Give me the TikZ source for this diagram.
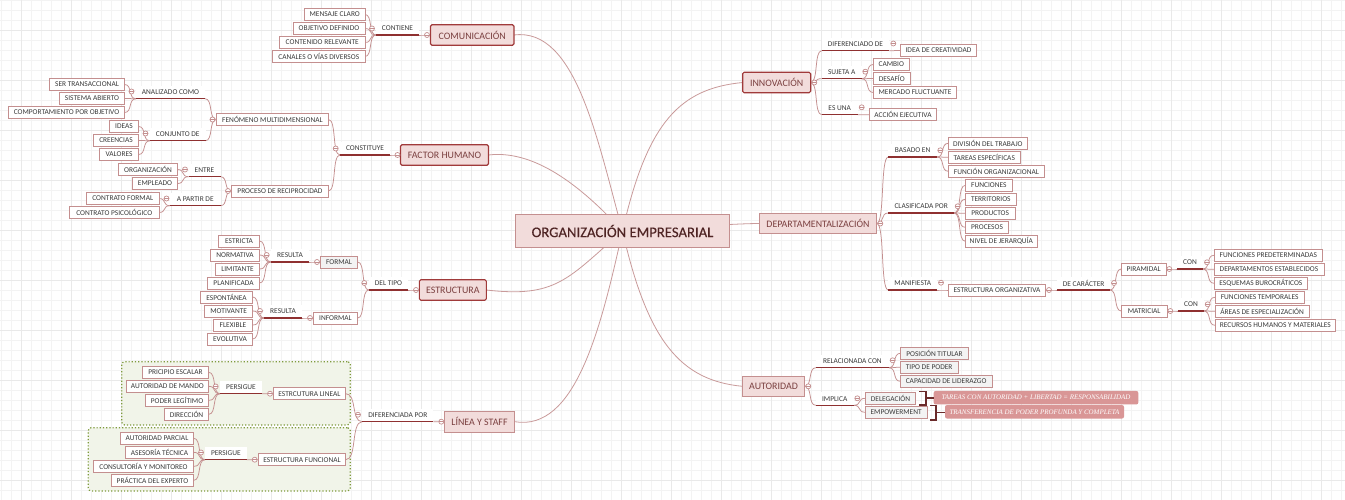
\documentclass[tikz,border=0pt]{standalone}
\usepackage{fontspec}
\setmainfont{Carlito}
\newfontfamily\callfont{Liberation Serif}
\newfontfamily\rootfont[FakeBold=0.3]{Carlito}
\usetikzlibrary{calc,backgrounds}
\definecolor{gridmin}{HTML}{F3F3F3}
\definecolor{gridmaj}{HTML}{E9E9E9}
\definecolor{lineC}{HTML}{C48F8F}
\definecolor{rootline}{HTML}{C99A9A}
\definecolor{barC}{HTML}{8F3030}
\definecolor{pinkF}{HTML}{F2DCDB}
\definecolor{strongB}{HTML}{A03A3A}
\definecolor{txtC}{HTML}{3A3A3A}
\definecolor{topicT}{HTML}{7A3F3F}
\definecolor{rootT}{HTML}{4F2424}
\definecolor{panelF}{HTML}{F1F4E9}
\definecolor{panelB}{HTML}{7E9A3C}
\definecolor{callF}{HTML}{D99696}
\definecolor{brkC}{HTML}{6A2A2A}
\tikzset{
  box/.style={draw=lineC,line width=.8pt,fill=white,inner sep=0pt,outer sep=0pt,minimum height=12pt,
    text=txtC,font=\fontsize{7.4}{9}\selectfont},
  greybox/.style={fill=gridmin},
  topic/.style={draw=lineC,fill=pinkF,minimum height=20.5pt,text=topicT,font=\fontsize{9.9}{12}\selectfont},
  strong/.style={draw=strongB,line width=1.1pt,rounded corners=1.5pt},
  rootbox/.style={draw=lineC,line width=.9pt,fill=pinkF,minimum height=33pt,text=rootT,font=\rootfont\fontsize{14.7}{16}\selectfont},
  labelbox/.style={fill=white,inner sep=0pt,outer sep=0pt,minimum height=13pt,text=txtC,font=\fontsize{7.4}{9}\selectfont},
  bar/.style={draw=barC,line width=1.4pt},
  toggle/.style={circle,draw=lineC,fill=white,line width=.7pt,inner sep=0pt,outer sep=0pt,minimum size=5pt,
    path picture={\draw[lineC,line width=.5pt] (path picture bounding box.west) -- (path picture bounding box.east);}},
  conn/.style={draw=lineC,line width=.75pt},
  rootconn/.style={draw=rootline,line width=.8pt},
  panel/.style={draw=panelB,fill=panelF,line width=1.2pt,dotted,rounded corners=3pt,inner sep=0pt},
  callout/.style={fill=callF,rounded corners=2pt,inner sep=0pt,minimum height=13.5pt,text=white,
    font=\callfont\itshape\fontsize{6.95}{9}\selectfont},
  brk/.style={draw=brkC,line width=1.6pt},
}
% [style]{name}{x1}{x2}{yc}{text}
\newcommand\bx[6][]{\node[box,#1,minimum width={(#4-#3)*1pt}] (#2) at ({(#3+#4)/2},#5) {#6};}
% [style]{name}{x1}{x2}{yline}{text}
\newcommand\lab[6][]{\node[labelbox,#1,minimum width={(#4-#3)*1pt}] (#2) at ({(#3+#4)/2},#5-6.5) {#6};
  \draw[bar] (#2.south west) -- (#2.south east);}
\newcommand\cc[3]{\node[toggle] (#1) at (#2,#3) {};}
\newcommand\lnk[2]{\draw[conn] (#1) .. controls ($(#1)!.7!(#2|-#1)$) and ($(#2)!.7!(#1|-#2)$) .. (#2);}
\begin{document}
\begin{tikzpicture}[x=1pt,y=-1pt]
\useasboundingbox (0,0) rectangle (1345,500);
% ROOT
\node[rootbox,minimum width=214pt] (root) at (622.5,231) {ORGANIZACIÓN EMPRESARIAL};
% COMUNICACION
\bx[topic,strong]{com}{430.5}{514}{35}{COMUNICACIÓN}
\cc{tcom}{427}{35}
\lab{contiene}{376}{419}{35}{CONTIENE}
\cc{tcont}{372}{28.5}
\bx{m1}{304.5}{365}{14.5}{MENSAJE CLARO}
\bx{m2}{293}{365}{28.5}{OBJETIVO DEFINIDO}
\bx{m3}{279.5}{365}{42.5}{CONTENIDO RELEVANTE}
\bx{m4}{272.5}{365}{56.5}{CANALES O VÍAS DIVERSOS}
% FACTOR HUMANO
\bx[topic,strong]{fac}{400.5}{488.5}{155}{FACTOR HUMANO}
\cc{tfac}{397.5}{155}
\lab{const}{340}{390}{155}{CONSTITUYE}
\cc{tconst}{335.7}{148.5}
\bx{fen}{216.5}{328.5}{119.5}{FENÓMENO MULTIDIMENSIONAL}
\cc{tfen}{212.5}{119.5}
\bx{pro}{231.5}{328.5}{191}{PROCESO DE RECIPROCIDAD}
\cc{tpro}{228}{191}
\lab{anal}{136}{205}{98.7}{ANALIZADO COMO}
\cc{tanal}{131.5}{91.5}
\bx{f1}{49.5}{124.5}{84.5}{SER TRANSACCIONAL}
\bx{f2}{59.5}{124.5}{98.5}{SISTEMA ABIERTO}
\bx{f3}{8.5}{124.5}{112.5}{COMPORTAMIENTO POR OBJETIVO}
\lab{conj}{150}{205.5}{140.7}{CONJUNTO DE}
\cc{tconj}{145.5}{133.5}
\bx{f4}{109.5}{138.5}{126.5}{IDEAS}
\bx{f5}{93.5}{138.5}{140.5}{CREENCIAS}
\bx{f6}{99.5}{138.5}{154.5}{VALORES}
\lab{entre}{188.5}{220.5}{176.7}{ENTRE}
\cc{tentre}{185}{169.5}
\bx{f7}{118.5}{177.5}{169.5}{ORGANIZACIÓN}
\bx{f8}{132.5}{177.5}{183.5}{EMPLEADO}
\lab{apar}{170}{220.5}{205.7}{A PARTIR DE}
\cc{tapar}{166.5}{198.5}
\bx{f9}{86.5}{159}{198.5}{CONTRATO FORMAL}
\bx{f10}{69.5}{159}{212.5}{CONTRATO PSICOLÓGICO}
% ESTRUCTURA
\bx[topic,strong]{est}{419.3}{486.3}{290}{ESTRUCTURA}
\cc{test}{416}{290}
\lab{deltipo}{368.7}{408.3}{290}{DEL TIPO}
\cc{tdel}{364.3}{283}
\bx[greybox]{form}{320.3}{357.7}{262}{FORMAL}
\cc{tform}{317}{262}
\bx{inf}{313.3}{357.7}{318}{INFORMAL}
\cc{tinf}{310}{318}
\lab{res1}{270.7}{309.3}{262}{RESULTA}
\cc{tres1}{266.7}{255}
\lab{res2}{264}{302}{318}{RESULTA}
\cc{tres2}{260}{311}
\bx{e1}{218.5}{259.5}{241}{ESTRICTA}
\bx{e2}{210.7}{259.5}{255}{NORMATIVA}
\bx{e3}{215.5}{259.5}{269}{LIMITANTE}
\bx{e4}{207.5}{259.5}{283}{PLANIFICADA}
\bx{e5}{200.3}{252.7}{297}{ESPONTÁNEA}
\bx{e6}{204.7}{252.7}{311}{MOTIVANTE}
\bx{e7}{213.3}{252.7}{325}{FLEXIBLE}
\bx{e8}{207.3}{252.7}{339}{EVOLUTIVA}
% LINEA Y STAFF
\bx[topic]{lin}{444.3}{514.7}{421.7}{LÍNEA Y STAFF}
\cc{tlin}{441.3}{421.7}
\lab{dif}{362.3}{433.3}{421.7}{DIFERENCIADA POR}
\cc{tdif}{358}{414.7}
\bx{el}{273.3}{345.7}{393.7}{ESTRCUTURA LINEAL}
\cc{tel}{270}{393.7}
\bx{ef}{258.3}{345.7}{459.7}{ESTRUCTURA FUNCIONAL}
\cc{tef}{254.7}{459.7}
\lab{per1}{220}{262}{393.7}{PERSIGUE}
\cc{tper1}{215.7}{386.5}
\lab{per2}{205}{246.7}{459.7}{PERSIGUE}
\cc{tper2}{201}{452.5}
\bx{l1}{142.3}{208.7}{372.3}{PRICIPIO ESCALAR}
\bx{l2}{126}{208.7}{386.3}{AUTORIDAD DE MANDO}
\bx{l3}{145.3}{208.7}{400.3}{PODER LEGÍTIMO}
\bx{l4}{164.3}{208.7}{414.3}{DIRECCIÓN}
\bx{l5}{120.3}{193.7}{438.3}{AUTORIDAD PARCIAL}
\bx{l6}{125.3}{193.7}{452.3}{ASESORÍA TÉCNICA}
\bx{l7}{93.3}{193.7}{466.3}{CONSULTORÍA Y MONITOREO}
\bx{l8}{111.3}{193.7}{480.3}{PRÁCTICA DEL EXPERTO}
% INNOVACION
\bx[topic,strong]{inn}{742.7}{810.7}{82.5}{INNOVACIÓN}
\cc{tinn}{814.3}{82.5}
\lab{idif}{821.7}{889.3}{50.7}{DIFERENCIADO DE}
\cc{tidif}{893.3}{43.5}
\bx{i1}{900.3}{976.7}{50.5}{IDEA DE CREATIVIDAD}
\lab{isuj}{821.7}{861.7}{78.7}{SUJETA A}
\cc{tisuj}{865.3}{71.7}
\bx{i2}{873.3}{909.3}{64.5}{CAMBIO}
\bx{i3}{873.3}{910.3}{78.5}{DESAFÍO}
\bx{i4}{873.3}{956.7}{92.5}{MERCADO FLUCTUANTE}
\lab{ies}{821.7}{857.7}{114.7}{ES UNA}
\cc{ties}{861.7}{107.3}
\bx{i5}{869.3}{936.7}{114.7}{ACCIÓN EJECUTIVA}
% DEPARTAMENTALIZACION
\bx[topic]{dep}{759.3}{876.7}{223.5}{DEPARTAMENTALIZACIÓN}
\cc{tdep}{880.3}{223.5}
\lab{bas}{888.3}{937}{157}{BASADO EN}
\cc{tbas}{940.3}{150.3}
\bx{d1}{948.3}{1027.3}{143.3}{DIVISIÓN DEL TRABAJO}
\bx{d2}{948.3}{1020.3}{157.3}{TAREAS ESPECÍFICAS}
\bx{d3}{948.3}{1044.7}{171.3}{FUNCIÓN ORGANIZACIONAL}
\lab{cla}{888.3}{954}{213}{CLASIFICADA POR}
\cc{tcla}{957.7}{206.3}
\bx{d4}{965.3}{1012.3}{185.3}{FUNCIONES}
\bx{d5}{965.3}{1016.3}{199.3}{TERRITORIOS}
\bx{d6}{965.3}{1015}{213.3}{PRODUCTOS}
\bx{d7}{965.3}{1008.7}{227.3}{PROCESOS}
\bx{d8}{965.3}{1037.3}{241.3}{NIVEL DE JERARQUÍA}
\lab{man}{888.3}{937.3}{290}{MANIFIESTA}
\cc{tman}{941}{282.7}
\bx{eo}{948.3}{1045.7}{290}{ESTRUCTURA ORGANIZATIVA}
\cc{teo}{1049}{290}
\lab[]{car}{1057.3}{1110}{290}{DE CARÁCTER}
\cc{tcar}{1114}{283}
\bx{pir}{1121.3}{1166}{269}{PIRAMIDAL}
\cc{tpir}{1169.3}{269}
\bx{mat}{1121.3}{1167}{311}{MATRICIAL}
\cc{tmat}{1170.3}{311}
\lab{con1}{1177.3}{1202.7}{269}{CON}
\cc{tcon1}{1207}{262.3}
\lab{con2}{1178.3}{1203.7}{311}{CON}
\cc{tcon2}{1207.7}{304.3}
\bx{p1}{1214}{1322.7}{255.3}{FUNCIONES PREDETERMINADAS}
\bx{p2}{1214}{1324}{269.3}{DEPARTAMENTOS ESTABLECIDOS}
\bx{p3}{1214}{1307.7}{283.3}{ESQUEMAS BUROCRÁTICOS}
\bx{p4}{1215}{1304.3}{297.3}{FUNCIONES TEMPORALES}
\bx{p5}{1215}{1309.3}{311.3}{ÁREAS DE ESPECIALIZACIÓN}
\bx{p6}{1215}{1335.7}{325.3}{RECURSOS HUMANOS Y MATERIALES}
% AUTORIDAD
\bx[topic]{aut}{742.3}{804.7}{386.3}{AUTORIDAD}
\cc{taut}{808.3}{386.3}
\lab{rel}{815.7}{889}{367.7}{RELACIONADA CON}
\cc{trel}{892.7}{360.3}
\bx[greybox]{a1}{900.3}{968.7}{353.3}{POSICIÓN TITULAR}
\bx[greybox]{a2}{900.3}{958}{367.3}{TIPO DE PODER}
\bx[greybox]{a3}{900.3}{992}{381.3}{CAPACIDAD DE LIDERAZGO}
\lab{imp}{815.7}{853.7}{405.3}{IMPLICA}
\cc{timp}{857.3}{398.3}
\bx[greybox]{deleg}{865.3}{915.7}{398.3}{DELEGACIÓN}
\bx[greybox]{empow}{865.3}{927}{412.3}{EMPOWERMENT}
\node[callout,minimum width=204.6pt] (call1) at (1036,397.7) {TAREAS CON AUTORIDAD + LIBERTAD = RESPONSABILIDAD};
\node[callout,minimum width=179pt] (call2) at (1034.5,411.8) {TRANSFERENCIA DE PODER PROFUNDA Y COMPLETA};
\coordinate (b1a) at (919.3,391.5);
\coordinate (b1b) at (919.3,404.7);
\coordinate (b1m) at (925.7,398);
\coordinate (b2a) at (930.3,405.5);
\coordinate (b2b) at (930.3,419.8);
\coordinate (b2m) at (936,412.5);
\draw[brk] (b1a) -| (b1m) |- (b1b);
\draw[brk] (b1m) -- (b1m -| call1.west);
\draw[brk] (b2a) -| (b2m) |- (b2b);
\draw[brk] (b2m) -- (b2m -| call2.west);
\begin{pgfonlayer}{background}
  % grid
  \fill[white] (0,0) rectangle (1345,500);
  \foreach \gx in {1.5,11.5,...,1341.5} \draw[gridmin,line width=.7pt] (\gx,0) -- (\gx,500);
  \foreach \gy in {0.5,10.5,...,500.5} \draw[gridmin,line width=.7pt] (0,\gy) -- (1345,\gy);
  \foreach \gx in {21.5,71.5,...,1321.5} \draw[gridmaj,line width=.9pt] (\gx,0) -- (\gx,500);
  \foreach \gy in {30.5,80.5,...,480.5} \draw[gridmaj,line width=.9pt] (0,\gy) -- (1345,\gy);
  % panels
  \node[panel,minimum width=228.6pt,minimum height=63.3pt] (panA) at (236,393.3) {};
  \node[panel,minimum width=262pt,minimum height=63.3pt] (panB) at (219.3,459.3) {};
  % root curves
  \draw[rootconn] (root.center) .. controls +(-25,-90) and +(62,-8) .. (com.east);
  \draw[rootconn] (root.center) .. controls +(-35,-38) and +(50,-6) .. (fac.east);
  \draw[rootconn] (root.center) .. controls +(-55,48) and +(70,8) .. (est.east);
  \draw[rootconn] (root.center) .. controls +(-22,100) and +(60,10) .. (lin.east);
  \draw[rootconn] (root.center) .. controls +(25,-110) and +(-62,6) .. (inn.west);
  \draw[rootconn] (root.center) .. controls +(60,-4) and +(-20,0) .. (dep.west);
  \draw[rootconn] (root.center) .. controls +(25,110) and +(-62,-6) .. (aut.west);
  % branch links
  \foreach \c in {m1,m2,m3,m4} {\lnk{contiene.south west}{\c.east}}
  \lnk{contiene.south east}{com.west}
  \lnk{const.south east}{fac.west}
  \lnk{const.south west}{fen.east}
  \lnk{const.south west}{pro.east}
  \lnk{fen.west}{anal.south east}
  \lnk{fen.west}{conj.south east}
  \lnk{pro.west}{entre.south east}
  \lnk{pro.west}{apar.south east}
  \foreach \c in {f1,f2,f3} {\lnk{anal.south west}{\c.east}}
  \foreach \c in {f4,f5,f6} {\lnk{conj.south west}{\c.east}}
  \foreach \c in {f7,f8} {\lnk{entre.south west}{\c.east}}
  \foreach \c in {f9,f10} {\lnk{apar.south west}{\c.east}}
  \lnk{deltipo.south east}{est.west}
  \lnk{deltipo.south west}{form.east}
  \lnk{deltipo.south west}{inf.east}
  \lnk{res1.south east}{form.west}
  \lnk{res2.south east}{inf.west}
  \foreach \c in {e1,e2,e3,e4} {\lnk{res1.south west}{\c.east}}
  \foreach \c in {e5,e6,e7,e8} {\lnk{res2.south west}{\c.east}}
  \lnk{dif.south east}{lin.west}
  \lnk{dif.south west}{el.east}
  \lnk{dif.south west}{ef.east}
  \lnk{per1.south east}{el.west}
  \lnk{per2.south east}{ef.west}
  \foreach \c in {l1,l2,l3,l4} {\lnk{per1.south west}{\c.east}}
  \foreach \c in {l5,l6,l7,l8} {\lnk{per2.south west}{\c.east}}
  \lnk{inn.east}{idif.south west}
  \lnk{inn.east}{isuj.south west}
  \lnk{inn.east}{ies.south west}
  \lnk{idif.south east}{i1.west}
  \foreach \c in {i2,i3,i4} {\lnk{isuj.south east}{\c.west}}
  \lnk{ies.south east}{i5.west}
  \lnk{dep.east}{bas.south west}
  \lnk{dep.east}{cla.south west}
  \lnk{dep.east}{man.south west}
  \foreach \c in {d1,d2,d3} {\lnk{bas.south east}{\c.west}}
  \foreach \c in {d4,d5,d6,d7,d8} {\lnk{cla.south east}{\c.west}}
  \lnk{man.south east}{eo.west}
  \lnk{eo.east}{car.south west}
  \lnk{car.south east}{pir.west}
  \lnk{car.south east}{mat.west}
  \lnk{pir.east}{con1.south west}
  \lnk{mat.east}{con2.south west}
  \foreach \c in {p1,p2,p3} {\lnk{con1.south east}{\c.west}}
  \foreach \c in {p4,p5,p6} {\lnk{con2.south east}{\c.west}}
  \lnk{aut.east}{rel.south west}
  \lnk{aut.east}{imp.south west}
  \foreach \c in {a1,a2,a3} {\lnk{rel.south east}{\c.west}}
  \foreach \c in {deleg,empow} {\lnk{imp.south east}{\c.west}}
\end{pgfonlayer}
\end{tikzpicture}
\end{document}
